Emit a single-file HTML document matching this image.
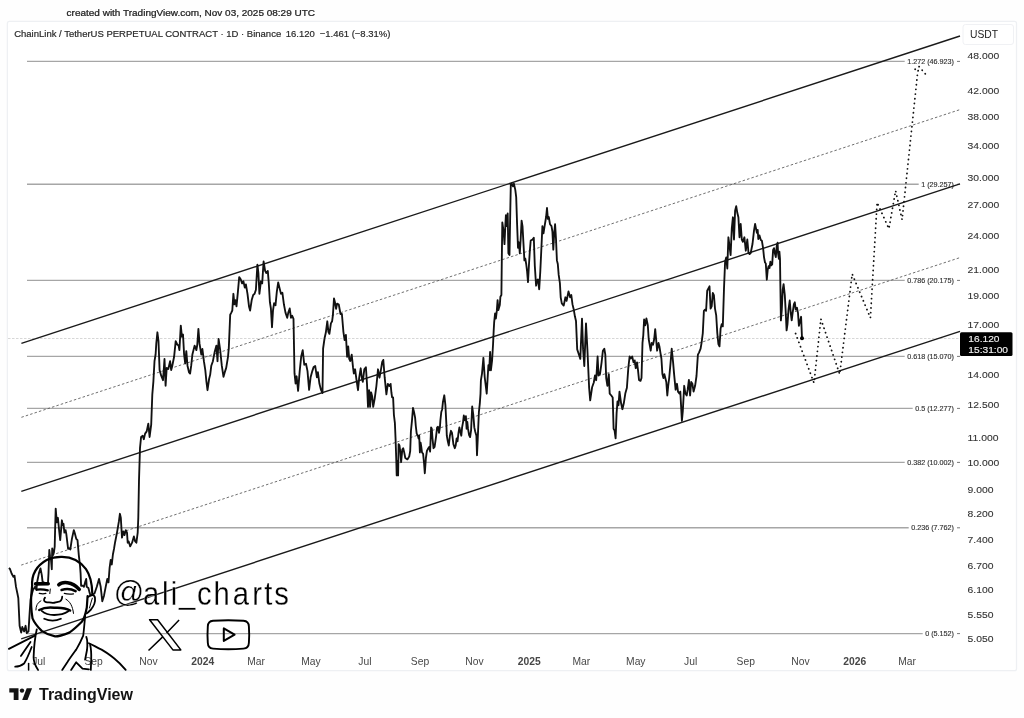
<!DOCTYPE html>
<html><head><meta charset="utf-8"><style>
html,body{margin:0;padding:0;background:#fff;width:1024px;height:718px;overflow:hidden}
svg{display:block;will-change:transform}
text{font-family:"Liberation Sans", sans-serif}
.pl{font-size:9.6px;fill:#333;stroke:#333;stroke-width:0.1px}
.tl{font-size:10.3px;fill:#474747}
.b{font-weight:bold}
.fl{font-size:7.2px;fill:#333;stroke:#333;stroke-width:0.15px}
</style></head><body>
<svg width="1024" height="718" viewBox="0 0 1024 718">
<rect x="0" y="0" width="1024" height="718" fill="#fefefe"/>
<rect x="7.4" y="21.4" width="1009.1" height="649.3" rx="2" fill="#fff" stroke="#eef0f3" stroke-width="1.3"/>
<text transform="translate(66.6 15.8) scale(1.075 1)" style="font-size:9.3px;fill:#222;stroke:#222;stroke-width:0.25px">created with TradingView.com, Nov 03, 2025 08:29 UTC</text>
<text x="14.2" y="36.8" style="font-size:9.5px;fill:#2a2a2a;stroke:#2a2a2a;stroke-width:0.2px">ChainLink / TetherUS PERPETUAL CONTRACT · 1D · Binance <tspan x="285.8">16.120</tspan> <tspan x="319.7">−1.461 (−8.31%)</tspan></text>
<rect x="963" y="24.5" width="50.5" height="20" rx="2.5" fill="#fff" stroke="#f0f1f4"/>
<text x="970" y="38.2" style="font-size:10.3px;fill:#222">USDT</text>
<text transform="translate(967.6 59.40) scale(1.08 1)" class="pl">48.000</text><text transform="translate(967.6 93.97) scale(1.08 1)" class="pl">42.000</text><text transform="translate(967.6 119.88) scale(1.08 1)" class="pl">38.000</text><text transform="translate(967.6 148.68) scale(1.08 1)" class="pl">34.000</text><text transform="translate(967.6 181.08) scale(1.08 1)" class="pl">30.000</text><text transform="translate(967.6 208.36) scale(1.08 1)" class="pl">27.000</text><text transform="translate(967.6 238.85) scale(1.08 1)" class="pl">24.000</text><text transform="translate(967.6 273.42) scale(1.08 1)" class="pl">21.000</text><text transform="translate(967.6 299.33) scale(1.08 1)" class="pl">19.000</text><text transform="translate(967.6 328.13) scale(1.08 1)" class="pl">17.000</text><text transform="translate(967.6 378.40) scale(1.08 1)" class="pl">14.000</text><text transform="translate(967.6 407.74) scale(1.08 1)" class="pl">12.500</text><text transform="translate(967.6 440.83) scale(1.08 1)" class="pl">11.000</text><text transform="translate(967.6 465.51) scale(1.08 1)" class="pl">10.000</text><text transform="translate(967.6 492.79) scale(1.08 1)" class="pl">9.000</text><text transform="translate(967.6 516.89) scale(1.08 1)" class="pl">8.200</text><text transform="translate(967.6 543.47) scale(1.08 1)" class="pl">7.400</text><text transform="translate(967.6 569.19) scale(1.08 1)" class="pl">6.700</text><text transform="translate(967.6 593.48) scale(1.08 1)" class="pl">6.100</text><text transform="translate(967.6 617.95) scale(1.08 1)" class="pl">5.550</text><text transform="translate(967.6 642.39) scale(1.08 1)" class="pl">5.050</text><text x="38.8" y="664.9" class="tl" text-anchor="middle">Jul</text><text x="93.6" y="664.9" class="tl" text-anchor="middle">Sep</text><text x="148.4" y="664.9" class="tl" text-anchor="middle">Nov</text><text x="202.8" y="664.9" class="tl b" text-anchor="middle">2024</text><text x="256" y="664.9" class="tl" text-anchor="middle">Mar</text><text x="311" y="664.9" class="tl" text-anchor="middle">May</text><text x="364.9" y="664.9" class="tl" text-anchor="middle">Jul</text><text x="420" y="664.9" class="tl" text-anchor="middle">Sep</text><text x="474.5" y="664.9" class="tl" text-anchor="middle">Nov</text><text x="529.2" y="664.9" class="tl b" text-anchor="middle">2025</text><text x="581.4" y="664.9" class="tl" text-anchor="middle">Mar</text><text x="635.8" y="664.9" class="tl" text-anchor="middle">May</text><text x="690.6" y="664.9" class="tl" text-anchor="middle">Jul</text><text x="745.7" y="664.9" class="tl" text-anchor="middle">Sep</text><text x="800.4" y="664.9" class="tl" text-anchor="middle">Nov</text><text x="854.8" y="664.9" class="tl b" text-anchor="middle">2026</text><text x="907.1" y="664.9" class="tl" text-anchor="middle">Mar</text>
<text x="954" y="63.9" class="fl" text-anchor="end">1.272 (46.923)</text><line x1="957" x2="960" y1="61.4" y2="61.4" stroke="#555" stroke-width="0.8"/><line x1="27" x2="904.7" y1="61.4" y2="61.4" stroke="#a6a6a6" stroke-width="1.4"/><text x="954" y="186.8" class="fl" text-anchor="end">1 (29.257)</text><line x1="957" x2="960" y1="184.3" y2="184.3" stroke="#555" stroke-width="0.8"/><line x1="27" x2="918.7" y1="184.3" y2="184.3" stroke="#a6a6a6" stroke-width="1.4"/><text x="954" y="282.9" class="fl" text-anchor="end">0.786 (20.175)</text><line x1="957" x2="960" y1="280.4" y2="280.4" stroke="#555" stroke-width="0.8"/><line x1="27" x2="904.7" y1="280.4" y2="280.4" stroke="#a6a6a6" stroke-width="1.4"/><text x="954" y="358.9" class="fl" text-anchor="end">0.618 (15.070)</text><line x1="957" x2="960" y1="356.4" y2="356.4" stroke="#555" stroke-width="0.8"/><line x1="27" x2="904.7" y1="356.4" y2="356.4" stroke="#a6a6a6" stroke-width="1.4"/><text x="954" y="410.9" class="fl" text-anchor="end">0.5 (12.277)</text><line x1="957" x2="960" y1="408.4" y2="408.4" stroke="#555" stroke-width="0.8"/><line x1="27" x2="912.7" y1="408.4" y2="408.4" stroke="#a6a6a6" stroke-width="1.4"/><text x="954" y="464.9" class="fl" text-anchor="end">0.382 (10.002)</text><line x1="957" x2="960" y1="462.4" y2="462.4" stroke="#555" stroke-width="0.8"/><line x1="27" x2="904.7" y1="462.4" y2="462.4" stroke="#a6a6a6" stroke-width="1.4"/><text x="954" y="530.3" class="fl" text-anchor="end">0.236 (7.762)</text><line x1="957" x2="960" y1="527.8" y2="527.8" stroke="#555" stroke-width="0.8"/><line x1="27" x2="908.7" y1="527.8" y2="527.8" stroke="#a6a6a6" stroke-width="1.4"/><text x="954" y="636.1" class="fl" text-anchor="end">0 (5.152)</text><line x1="957" x2="960" y1="633.6" y2="633.6" stroke="#555" stroke-width="0.8"/><line x1="27" x2="922.7" y1="633.6" y2="633.6" stroke="#a6a6a6" stroke-width="1.4"/>
<line x1="8" x2="960" y1="338.5" y2="338.5" stroke="#d2d2d2" stroke-width="0.9" stroke-dasharray="2.5 1.5"/>
<!--CHANNEL-->
<g stroke="#1a1a1a" stroke-width="1.4" fill="none">
<line x1="21.4" y1="343.4" x2="960" y2="36"/>
<line x1="21.3" y1="491.3" x2="960" y2="183.8"/>
<line x1="21.2" y1="638.8" x2="960" y2="331.3"/>
</g>
<g stroke="#555" stroke-width="0.85" stroke-dasharray="2.5 2.1" fill="none">
<line x1="21.4" y1="417.3" x2="960" y2="109.6"/>
<line x1="21.2" y1="565.1" x2="960" y2="257.6"/>
</g>
<!--PRICE-->
<path d="M8.9 568.0 L10.0 569.0 L11.6 573.5 L13.4 576.9 L14.5 575.7 L16.0 586.9 L17.4 593.5 L18.3 598.0 L19.6 625.8 L21.2 632.5 L22.3 627.0 L24.1 631.4 L25.6 625.8 L26.7 633.2 L28.5 631.4 L29.6 613.6 L30.5 600.0 L31.3 596.0 L33.0 590.0 L35.1 586.8 L36.4 590.0 L37.2 581.8 L38.9 573.4 L40.5 568.4 L41.8 575.1 L42.6 581.8 L44.3 582.6 L46.4 583.4 L48.0 582.6 L48.5 573.4 L48.9 560.9 L49.3 550.0 L50.1 556.7 L51.0 560.0 L51.8 569.2 L52.2 548.4 L53.1 555.0 L53.9 552.5 L54.7 546.7 L55.1 530.0 L55.7 508.6 L56.8 522.3 L57.9 517.8 L58.5 524.0 L59.3 532.0 L60.2 540.1 L61.9 520.3 L62.8 525.1 L63.5 523.9 L64.4 532.6 L65.6 530.1 L66.3 533.9 L68.1 548.9 L69.4 548.3 L70.3 549.5 L71.9 538.9 L73.8 530.1 L75.0 533.9 L76.3 538.9 L77.5 540.2 L78.8 555.2 L80.0 565.6 L80.6 573.4 L81.1 585.7 L82.8 585.7 L83.9 586.8 L85.1 582.4 L86.2 579.0 L86.7 586.8 L88.4 588.0 L89.5 592.4 L90.6 595.7 L92.3 594.6 L94.5 593.5 L96.8 586.8 L99.0 579.0 L100.7 586.8 L102.3 601.3 L104.0 595.7 L105.7 586.8 L107.3 579.0 L108.5 582.4 L109.6 567.9 L110.7 560.0 L111.8 564.5 L112.9 554.5 L114.0 548.9 L115.1 542.2 L117.0 532.6 L118.9 521.4 L119.9 513.8 L120.8 517.6 L122.0 537.6 L123.3 531.4 L124.5 535.1 L125.8 530.1 L127.0 532.6 L127.7 542.7 L128.7 541.4 L130.2 546.4 L132.1 542.7 L133.9 536.4 L135.2 541.4 L136.4 542.7 L137.7 532.6 L138.3 517.6 L139.0 480.0 L140.0 448.0 L141.1 437.0 L142.7 435.8 L143.8 439.2 L145.1 433.6 L146.7 431.4 L148.3 423.6 L149.6 437.0 L151.2 424.7 L152.3 394.6 L153.4 381.3 L154.5 361.2 L155.6 354.5 L156.3 343.4 L157.4 332.3 L158.5 341.2 L159.6 370.1 L161.2 375.7 L163.0 380.2 L164.5 359.0 L165.6 385.7 L166.7 367.9 L168.3 369.0 L170.1 361.2 L171.2 370.1 L172.3 365.7 L174.1 356.8 L175.7 341.2 L177.2 344.5 L178.6 345.6 L179.4 350.1 L180.8 325.6 L181.9 336.7 L183.0 334.5 L184.1 354.5 L185.2 363.5 L186.3 351.2 L187.5 365.7 L189.0 372.4 L190.1 373.5 L191.2 365.7 L192.4 354.5 L194.6 345.6 L196.4 350.1 L197.3 344.5 L198.4 328.9 L199.5 343.4 L201.3 354.5 L202.4 349.0 L203.9 361.2 L205.3 370.1 L206.4 381.3 L207.5 390.2 L209.1 379.0 L210.2 374.6 L211.3 365.7 L212.9 361.2 L214.6 352.3 L216.4 345.6 L217.5 361.2 L218.6 339.0 L220.2 350.1 L221.8 365.7 L223.5 376.8 L224.7 372.4 L226.2 367.9 L228.0 356.8 L228.8 348.1 L230.2 314.7 L231.3 312.6 L232.3 310.5 L233.4 293.8 L234.4 304.3 L235.4 300.1 L236.5 306.4 L237.9 291.8 L239.2 277.1 L240.7 279.2 L242.1 283.4 L243.4 281.3 L244.8 287.6 L245.9 284.4 L247.5 293.8 L249.0 306.4 L250.1 310.5 L251.7 300.1 L253.2 294.9 L254.6 293.8 L255.9 289.7 L257.4 264.6 L258.4 273.0 L259.4 293.8 L260.9 281.3 L262.2 283.4 L263.6 261.5 L265.1 270.9 L266.3 273.0 L267.8 270.9 L268.8 283.4 L269.9 302.2 L270.9 308.5 L272.0 327.2 L273.0 310.5 L274.1 303.2 L275.5 305.3 L276.8 291.8 L278.2 282.4 L279.7 288.6 L281.0 293.8 L282.4 292.8 L283.9 304.3 L285.5 312.6 L287.2 317.8 L288.3 312.6 L289.7 308.5 L291.0 317.8 L292.2 315.8 L293.5 318.9 L294.5 373.2 L295.6 383.6 L296.6 376.3 L298.1 390.9 L299.7 371.1 L301.2 356.5 L302.7 350.2 L304.3 364.8 L306.0 363.8 L307.5 371.1 L309.1 389.9 L310.6 377.3 L312.3 371.1 L313.7 366.9 L315.2 365.9 L316.9 377.3 L317.9 372.1 L319.4 383.6 L321.0 389.9 L322.5 393.0 L323.1 348.5 L324.6 338.0 L325.8 332.8 L327.3 321.3 L328.4 331.8 L329.4 333.8 L330.9 323.4 L332.1 321.3 L332.9 315.1 L334.0 298.4 L335.0 302.5 L336.1 308.8 L337.1 303.6 L338.8 304.6 L340.5 314.0 L341.9 314.0 L343.4 331.8 L344.6 340.1 L345.9 334.9 L347.1 356.8 L348.2 346.4 L349.2 358.9 L350.3 361.0 L351.7 354.7 L353.0 367.2 L353.8 373.5 L355.1 369.3 L356.5 379.8 L358.0 390.2 L359.2 377.7 L360.7 368.3 L361.8 377.7 L362.8 381.9 L364.3 369.3 L365.9 367.2 L367.0 383.9 L368.0 406.9 L369.1 390.2 L370.1 406.9 L371.1 392.3 L372.2 396.5 L373.2 406.9 L374.7 398.6 L376.4 386.0 L378.0 369.3 L379.5 377.7 L381.0 369.3 L382.2 362.0 L383.3 359.9 L384.7 377.7 L386.4 394.4 L387.8 383.9 L389.3 386.0 L390.6 383.9 L391.4 392.5 L392.1 397.4 L393.1 397.4 L393.9 414.8 L394.9 423.2 L395.6 439.9 L396.3 460.8 L396.7 475.4 L397.7 460.8 L398.1 475.4 L398.6 444.1 L399.5 445.5 L400.4 452.4 L401.1 462.2 L402.3 449.6 L403.2 448.2 L404.2 452.4 L405.3 458.0 L407.4 459.4 L409.2 456.6 L410.2 451.0 L410.9 431.5 L412.0 420.4 L413.0 407.9 L414.0 412.0 L415.1 417.6 L415.8 426.0 L416.7 433.6 L417.9 435.7 L418.6 438.5 L419.2 435.7 L419.9 452.4 L420.6 442.7 L421.3 446.9 L422.0 452.4 L423.1 453.8 L424.1 463.6 L424.8 473.3 L425.9 458.0 L426.9 451.0 L428.3 448.2 L429.3 446.9 L430.1 451.7 L431.1 427.4 L431.8 428.7 L432.5 438.5 L433.5 448.2 L434.6 446.9 L436.0 437.1 L437.1 427.4 L438.0 426.7 L439.0 432.9 L439.9 427.4 L440.4 420.4 L441.3 412.0 L442.2 409.2 L442.9 402.3 L444.3 395.3 L445.4 405.1 L446.4 424.6 L446.8 435.7 L447.8 441.3 L448.8 445.5 L449.9 435.7 L451.0 430.8 L452.0 432.9 L453.4 444.1 L454.8 448.2 L455.7 445.5 L456.6 438.5 L457.5 441.3 L458.5 432.9 L459.4 427.4 L460.3 431.5 L461.3 435.7 L462.1 427.4 L463.1 421.8 L463.8 415.5 L464.9 420.4 L465.9 416.2 L466.6 428.7 L467.3 421.8 L468.0 428.7 L469.1 435.0 L470.1 437.1 L471.1 430.1 L472.2 406.5 L473.3 414.8 L474.3 427.4 L475.2 431.5 L476.4 435.7 L477.0 455.2 L477.7 439.9 L478.9 412.0 L479.8 403.7 L480.5 393.9 L480.9 380.3 L482.0 373.6 L483.4 357.8 L484.7 377.0 L485.9 387.0 L486.7 393.7 L487.6 378.7 L488.4 365.3 L489.2 370.3 L490.1 351.9 L490.9 370.3 L492.1 360.3 L493.1 343.5 L493.7 330.2 L494.2 321.8 L495.1 313.4 L495.9 318.5 L496.8 310.9 L497.6 300.1 L498.4 310.1 L499.8 305.1 L500.4 296.7 L501.4 295.0 L501.8 260.4 L502.3 222.4 L503.6 231.5 L504.5 244.1 L505.4 224.2 L505.9 215.2 L506.8 226.1 L507.7 213.4 L508.4 253.2 L509.5 255.0 L510.3 209.8 L510.8 184.5 L511.7 183.6 L513.0 186.3 L513.9 183.6 L515.3 189.9 L516.2 197.1 L517.1 224.2 L518.0 247.8 L518.9 242.3 L519.8 253.2 L520.7 238.7 L521.6 220.6 L522.5 226.1 L523.5 244.1 L524.4 260.4 L525.3 258.6 L526.2 264.0 L527.1 271.3 L528.0 282.1 L528.9 265.8 L529.8 251.4 L530.7 240.5 L532.5 239.6 L533.8 237.8 L534.8 265.8 L536.1 285.7 L537.0 280.3 L537.9 279.4 L539.2 289.3 L540.3 271.3 L541.5 246.0 L542.4 226.1 L543.5 233.3 L544.6 226.1 L546.1 217.0 L547.0 208.0 L547.9 218.8 L548.8 217.0 L550.0 224.2 L551.5 226.1 L552.4 231.5 L553.3 249.6 L554.2 233.3 L555.1 224.2 L556.0 238.7 L556.9 260.4 L557.8 264.0 L558.7 274.9 L559.9 283.1 L560.7 297.3 L561.8 303.3 L563.7 305.6 L565.4 297.3 L566.6 300.9 L568.5 291.4 L570.1 297.3 L571.3 295.0 L572.5 304.4 L573.7 309.2 L574.9 316.3 L576.0 321.0 L577.2 349.4 L578.4 353.0 L580.3 358.9 L582.0 318.6 L583.1 349.4 L584.3 366.0 L586.0 323.4 L587.4 349.4 L589.1 387.3 L590.2 400.3 L592.1 387.3 L593.8 382.5 L595.0 375.4 L596.2 380.2 L597.6 356.5 L598.5 375.4 L600.0 374.1 L601.6 362.4 L602.9 350.7 L604.3 348.7 L605.3 354.6 L606.2 378.0 L607.4 385.8 L608.8 374.1 L609.7 393.6 L611.3 395.5 L612.7 397.5 L613.6 428.7 L614.6 430.6 L615.6 438.4 L616.6 413.1 L617.5 401.4 L618.5 405.3 L619.5 391.6 L621.1 403.3 L622.4 409.2 L623.8 403.3 L625.3 393.6 L626.9 387.7 L628.3 368.2 L629.6 356.5 L630.8 358.5 L632.2 356.5 L633.5 362.4 L634.7 360.4 L635.7 368.2 L637.0 362.4 L638.0 370.2 L639.0 379.9 L640.5 380.9 L641.5 378.0 L642.5 342.9 L643.3 335.1 L644.1 319.5 L645.2 325.3 L646.4 318.5 L647.8 325.3 L648.7 339.0 L649.7 344.8 L650.7 350.7 L651.7 342.9 L653.0 344.8 L654.2 339.0 L655.2 329.2 L656.1 339.0 L657.1 350.7 L658.5 342.9 L659.5 346.8 L660.4 352.6 L661.4 358.5 L662.4 374.1 L663.4 378.0 L664.3 374.1 L665.3 378.0 L666.3 381.9 L667.3 395.5 L668.2 385.8 L669.2 378.0 L670.6 362.4 L671.7 348.7 L673.1 362.4 L674.1 374.1 L675.6 389.7 L677.0 383.8 L678.0 391.6 L679.5 393.6 L680.3 391.6 L681.9 420.9 L682.8 411.1 L684.2 385.8 L685.4 393.6 L686.7 395.5 L687.7 389.7 L688.9 379.9 L690.1 395.5 L691.2 381.9 L692.4 383.8 L693.6 391.6 L695.1 385.8 L696.5 376.0 L697.9 354.6 L699.0 352.6 L700.6 348.7 L701.7 342.0 L702.8 333.1 L703.9 310.8 L705.0 309.7 L706.1 310.8 L707.2 290.8 L708.4 288.5 L709.5 286.3 L710.6 308.6 L711.7 306.4 L712.8 293.0 L713.9 295.2 L715.0 308.6 L716.2 315.3 L717.3 333.1 L718.4 344.2 L719.5 346.4 L720.6 328.6 L721.7 324.2 L722.8 326.4 L724.0 288.5 L725.1 261.8 L726.2 257.4 L727.3 268.5 L728.4 237.3 L729.5 246.2 L730.6 255.1 L731.8 228.4 L732.9 217.3 L734.0 239.5 L735.1 210.6 L736.2 206.1 L737.3 212.8 L738.4 217.3 L739.5 237.3 L740.7 224.0 L741.8 239.5 L742.9 241.8 L744.4 237.3 L745.8 250.7 L747.3 239.5 L748.5 253.0 L749.6 254.0 L750.7 253.0 L752.5 244.0 L754.0 230.6 L755.1 224.0 L756.9 232.9 L757.7 230.0 L758.3 239.0 L759.5 235.4 L760.8 240.0 L761.9 240.8 L763.1 248.1 L764.0 257.1 L765.0 262.5 L765.8 263.5 L766.8 279.7 L767.7 269.8 L768.6 266.2 L769.5 268.0 L770.4 261.6 L771.3 265.3 L772.2 264.4 L773.1 249.9 L774.0 248.1 L774.9 253.5 L775.8 257.1 L776.7 246.3 L777.6 242.7 L778.1 253.5 L778.9 258.9 L779.4 251.7 L780.0 258.9 L780.3 280.6 L780.9 320.4 L781.8 309.6 L782.7 289.7 L783.6 284.2 L784.8 295.1 L785.7 311.4 L786.6 330.4 L787.5 324.0 L788.5 309.6 L789.7 300.5 L790.8 313.2 L791.7 320.4 L792.6 313.2 L793.9 304.1 L794.8 302.3 L795.7 309.6 L797.0 307.8 L798.0 313.2 L798.9 325.8 L800.2 320.4 L801.1 316.8 L802.0 338.0" fill="none" stroke="#111" stroke-width="1.85" stroke-linejoin="round"/>
<g fill="none" stroke="#111" stroke-width="1.8" stroke-dasharray="0.1 4.6" stroke-linecap="round">
<path d="M795.6 333.5 L814 383 L820.9 319 L839.7 374.2 L852.2 274 L870.4 317.8 L877.1 202.5 L888.9 228.7 L895.6 190.7 L902.1 219.7 L917.6 73 L919.1 66.6"/>
<path d="M919.1 66.6 L911.8 71.5 M919.1 66.6 L925.6 74.2"/>
</g>
<circle cx="802" cy="338.2" r="2" fill="#000"/>
<rect x="960" y="332.3" width="52.5" height="23.6" rx="1.5" fill="#000"/>
<text transform="translate(968.3 341.6) scale(1.11 1)" style="font-size:9.2px;fill:#eee;stroke:#eee;stroke-width:0.15px">16.120</text>
<text transform="translate(968.3 352.6) scale(1.11 1)" style="font-size:9.2px;fill:#eee;stroke:#eee;stroke-width:0.15px">15:31:00</text>
<!--AVATAR-->
<g fill="none" stroke="#000" stroke-linecap="round" stroke-linejoin="round">
<path stroke-width="2.2" d="M32.1 585.9 C31.5 575, 36 566, 46.7 560 C52 557.5, 58 556.8, 62 556.9 C72 557, 80 561, 86 569.2 C90 575, 92 582, 92.3 593.4"/>
<path stroke-width="2.2" d="M32.1 585.9 L31.3 595 C30.8 601, 30.8 607.5, 32.5 618.4 C34 622, 36.7 625.9, 41.7 630.9 C44 632.5, 48.4 635.1, 55.1 636.4 C58 636.5, 61.8 635.5, 69.3 632.6 C73 630, 76.8 626.7, 81.8 621.7 C84 619, 85.2 615.9, 86.8 607.5 L87.6 596"/>
<path stroke-width="1.8" d="M88.5 596.8 C91 594.5, 94.5 594.5, 95 598 C95.5 602, 93 607, 91 609.5 C89.5 611, 88 612.5, 86.8 613.4"/>
<path stroke-width="1" d="M92.3 598.2 C91.3 601, 90.3 605, 89.5 608"/>
<path stroke-width="3.6" d="M58.8 584.8 C62 581.6, 72 580.9, 79.2 589.3"/>
<path stroke-width="3.6" d="M35.6 583.9 L48.2 583.7"/>
<path stroke-width="2.5" d="M61.6 590 C66 588.6, 71 588.8, 75.6 591.2"/>
<path stroke-width="1.2" d="M64.3 593.4 C67 594.2, 71 594.2, 73.5 593.9"/>
<path stroke-width="2.2" d="M36.8 589.6 C41 589, 45 589.6, 47.8 590.4"/>
<path stroke-width="1.2" d="M39.2 593.4 C42 594, 44 594, 45.9 593.4"/>
<path stroke-width="1" d="M50.3 589 L49.8 593.6"/>
<path stroke-width="1.8" d="M45 597.6 C43.6 599.5, 43.6 601.5, 45.9 602.1 C48 602.6, 50.5 602.3, 52.6 602.9 C54.5 603.2, 56 602, 58 601.8 C60.5 601.6, 62 600.5, 62.2 596.7"/>
<path stroke-width="1" d="M40.9 600.8 C37.5 602.5, 35.9 605.9, 35.9 610"/>
<path stroke-width="1" d="M65.9 599.2 C70 601.5, 72.6 605.9, 73.5 613.4"/>
<path stroke-width="2.5" d="M39.2 610 C43 608, 49 607.3, 54.2 607.8 C60 607.5, 66 608, 70.1 610.5"/>
<path stroke-width="1.8" d="M41.7 610.9 C45 613.8, 50 615, 54.2 615 C58 615, 64 614.2, 68.4 611.3"/>
<path stroke-width="1.8" d="M44.2 618.8 C48 620.5, 55 621.5, 60.9 618.8"/>
<path stroke-width="1.8" d="M36.8 629.3 C35 637, 34 645.8, 33.6 657.2 C33.6 662, 35.5 666.1, 38.1 669.9"/>
<path stroke-width="1.8" d="M34.9 635.6 L8.9 648.9"/>
<path stroke-width="1.8" d="M30.5 642 L20.9 655.9"/>
<path stroke-width="1.8" d="M31.7 647 C29 654, 26 660.5, 24.1 663.5 C21 666, 18 666.7, 15.2 666.7"/>
<path stroke-width="1.5" d="M28.6 663.5 L28.6 669.9"/>
<path stroke-width="1.8" d="M85.2 615.9 C84.5 622, 84 630, 83.2 635.6 C81 641, 79 645, 76.2 649.6 C73 654, 70 658, 67.3 662.3 L62.2 669.9"/>
<path stroke-width="1.8" d="M86.3 636.9 C87.5 640, 87.6 644.5, 87 650 L85.1 659.7"/>
<path stroke-width="1.8" d="M90.1 644.5 C91 648, 91.4 653.4, 91.2 660 L90.8 669.9"/>
<path stroke-width="1.8" d="M88.9 643.2 C93 645, 97 647.5, 101.6 649.6 C106 652, 110 655, 114.3 658.5 C118 661.5, 122 665.5, 125.7 669.9"/>
<path stroke-width="1.8" d="M71.1 669.9 L76.2 662.3 L82.5 668.6 L88.9 669.3"/>
</g>
<g style="font-size:34px;fill:#000" stroke="#fff" stroke-width="0.25">
<text transform="translate(113.65 601.6) scale(0.88)">@</text>
<text transform="translate(142.90 604.7) scale(0.86 1)">a</text>
<text transform="translate(162.01 604.7) scale(0.86 1)">l</text>
<text transform="translate(170.74 604.7) scale(0.86 1)">i</text>
<text transform="translate(179.03 602.6) scale(0.86 1)">_</text>
<text transform="translate(197.09 604.7) scale(0.86 1)">c</text>
<text transform="translate(213.58 604.7) scale(0.86 1)">h</text>
<text transform="translate(232.65 604.7) scale(0.86 1)">a</text>
<text transform="translate(252.31 604.7) scale(0.86 1)">r</text>
<text transform="translate(264.28 604.7) scale(0.86 1)">t</text>
<text transform="translate(274.24 604.7) scale(0.86 1)">s</text>
</g>
<g fill="none" stroke="#000" stroke-linejoin="round">
<path stroke-width="1.5" d="M149.6 619.7 L157.6 619.7 L180.8 649.9 L172.9 649.9 Z"/>
<path stroke-width="1.5" d="M179.1 619.9 L166.6 633 M162.7 636.9 L148.5 650.5"/>
<path stroke-width="1.9" d="M213 620.8 Q228.3 619.6 243.5 620.8 Q248.7 621.2 248.9 626.5 Q249.5 634.6 248.9 642.8 Q248.7 648.3 243.5 648.6 Q228.3 649.8 213 648.6 Q208 648.3 207.8 642.8 Q207.2 634.6 207.8 626.5 Q208 621.2 213 620.8 Z"/>
<path stroke-width="2" d="M223.8 628.4 L223.8 640.9 L234.6 634.7 Z"/>
</g>
<!--TVLOGO-->
<g fill="#131313">
<path d="M9.3 688.3 L18.5 688.3 L18.5 699.9 L13.7 699.9 L13.7 692.4 L9.3 692.4 Z"/>
<circle cx="22" cy="690.6" r="2.2"/>
<path d="M26.7 688.3 L32.1 688.3 L27.5 699.9 L22.2 699.9 Z"/>
</g>
<text x="39" y="699.9" style="font-size:16px;font-weight:bold;fill:#131313">TradingView</text>
</svg>
</body></html>
